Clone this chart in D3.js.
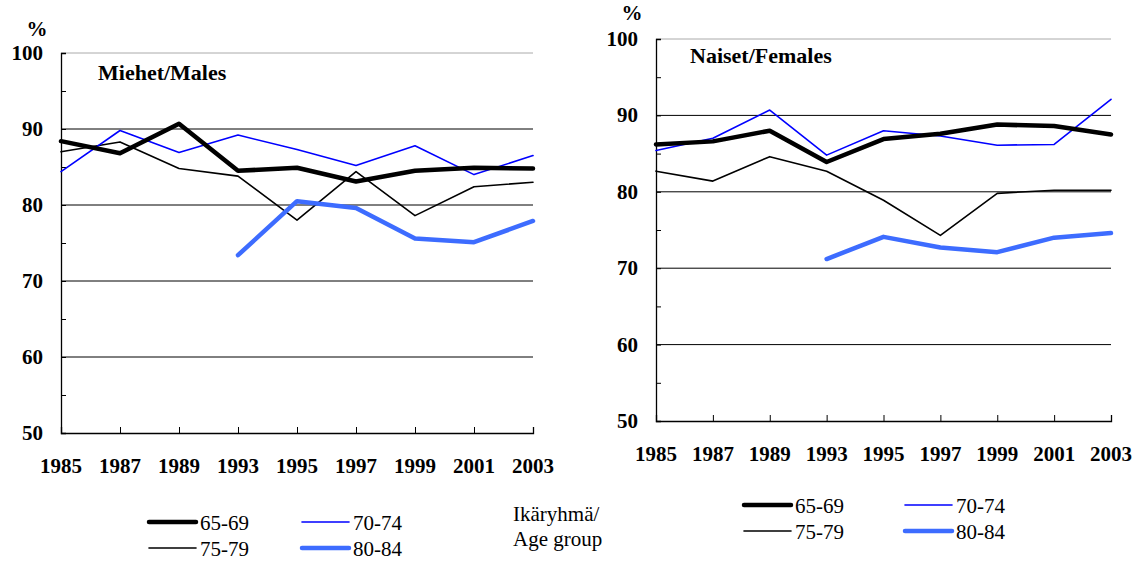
<!DOCTYPE html>
<html><head><meta charset="utf-8">
<script src="https://cdn.jsdelivr.net/npm/d3@7"></script>
<style>body{margin:0;background:#fff}svg{display:block}</style>
</head><body><svg id="c" width="1140" height="562"></svg>
<script>
const years = ["1985","1987","1989","1993","1995","1997","1999","2001","2003"];
const yTicks = [50,60,70,80,90,100];
const groups = ["65-69","70-74","75-79","80-84"];
const males_6569 = [88.4,86.8,90.7,84.5,84.9,83.1,84.5,84.9,84.8];
const males_7074 = [84.4,89.8,86.9,89.2,87.3,85.2,87.8,84.0,86.5];
const males_7579 = [87.0,88.3,84.8,83.8,78.0,84.4,78.6,82.4,83.0];
const males_8084 = [null,null,null,73.4,80.5,79.6,75.6,75.1,77.9];
const females_6569 = [86.2,86.6,88.0,83.9,86.9,87.6,88.8,88.6,87.5];
const females_7074 = [85.4,87.0,90.7,84.8,88.0,87.3,86.1,86.2,92.1];
const females_7579 = [82.7,81.4,84.6,82.7,78.9,74.3,79.8,80.2,80.2];
const females_8084 = [null,null,null,71.2,74.1,72.7,72.1,74.0,74.6];

const styles = {
  "65-69": {color:"#000", width:4.5},
  "70-74": {color:"#0000ff", width:1.6},
  "75-79": {color:"#000", width:1.6},
  "80-84": {color:"#3d6cff", width:4.5}
};
const FONT = "Liberation Serif";
const svg = d3.select("#c");
function txt(sel){ return sel.style("font-family", FONT); }

function panel(o){
  const g = svg.append("g");
  const x = d3.scalePoint().domain(years).range([o.x0,o.x1]);
  const y = d3.scaleLinear().domain([50,100]).range([o.y0,o.y1]);
  g.selectAll("line.grid").data(yTicks.filter(t=>t>50)).enter().append("line")
    .attr("x1",o.x0).attr("x2",o.x1).attr("y1",d=>y(d)).attr("y2",d=>y(d))
    .attr("stroke",d=>d===100?"#aaa":"#000").attr("stroke-width",1);
  const ya = d3.axisLeft(y).tickValues(d3.range(50,101,5)).tickSize(-5).tickFormat("");
  g.append("g").attr("transform",`translate(${o.x0},0)`).call(ya)
    .call(s=>s.select(".domain").attr("stroke","#000").attr("stroke-width",1.3))
    .call(s=>s.selectAll(".tick line").attr("stroke","#000"));
  txt(g.selectAll("text.yl").data(yTicks).enter().append("text")
    .attr("x",o.x0-18).attr("y",d=>y(d)+7).attr("text-anchor","end")
    .attr("font-weight","bold").attr("font-size",21).text(d=>d));
  const xa = d3.axisBottom(x).tickSize(-6).tickFormat("");
  g.append("g").attr("transform",`translate(0,${o.y0})`).call(xa)
    .call(s=>s.select(".domain").attr("stroke","#000").attr("stroke-width",1.3))
    .call(s=>s.selectAll(".tick line").attr("stroke","#000"));
  txt(g.selectAll("text.xl").data(years).enter().append("text")
    .attr("x",d=>x(d)).attr("y",o.y0+40).attr("text-anchor","middle")
    .attr("font-weight","bold").attr("font-size",21).text(d=>d));
  txt(g.append("text").attr("x",o.pctX).attr("y",o.pctY)
    .attr("font-weight","bold").attr("font-size",21).attr("text-anchor","middle").text("%"));
  txt(g.append("text").attr("x",o.titleX).attr("y",o.titleY)
    .attr("font-weight","bold").attr("font-size",22).text(o.title));
  const line = d3.line().defined(d=>d!=null).x((d,i)=>x(years[i])).y(d=>y(d));
  const order = ["75-79","70-74","80-84","65-69"];
  order.forEach(k=>{
    const st = styles[k];
    g.append("path").datum(o.series[k]).attr("d",line).attr("fill","none")
      .attr("stroke",st.color).attr("stroke-width",st.width)
      .attr("stroke-linejoin","round").attr("stroke-linecap","round");
  });
  const lg = svg.append("g");
  groups.forEach((k,i)=>{
    const col = i%2, row = Math.floor(i/2);
    const lx = o.legX + col*o.legDx, ly = o.legY + row*26;
    const st = styles[k];
    lg.append("line").attr("x1",lx).attr("x2",lx+o.legLen).attr("y1",ly).attr("y2",ly)
      .attr("stroke",st.color).attr("stroke-width",st.width).attr("stroke-linecap","round");
    txt(lg.append("text").attr("x",lx+o.legLen+4).attr("y",ly+8)
      .attr("font-size",21).text(k));
  });
}

panel({x0:61,x1:533,y0:433,y1:53,pctX:37,pctY:36,title:"Miehet/Males",titleX:98,titleY:80,
  series:{"65-69":males_6569,"70-74":males_7074,"75-79":males_7579,"80-84":males_8084},
  legX:149,legY:522,legDx:153,legLen:47});
panel({x0:656,x1:1111,y0:421,y1:39,pctX:632,pctY:20,title:"Naiset/Females",titleX:690,titleY:63,
  series:{"65-69":females_6569,"70-74":females_7074,"75-79":females_7579,"80-84":females_8084},
  legX:744,legY:505,legDx:161,legLen:47});

txt(svg.append("text").attr("x",513).attr("y",521).attr("font-size",21).text("Ikäryhmä/"));
txt(svg.append("text").attr("x",513).attr("y",546).attr("font-size",21).text("Age group"));
</script></body></html>
